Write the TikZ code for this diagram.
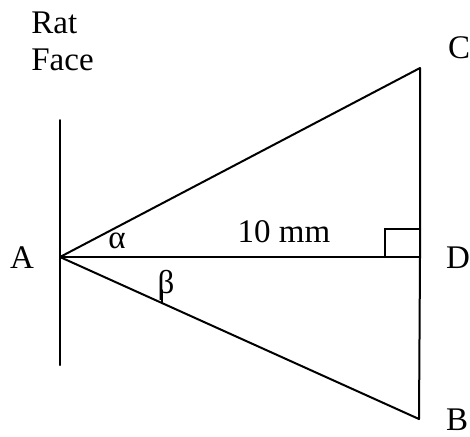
\documentclass[tikz,border=0pt]{standalone}
\usepackage{fontspec}
\setmainfont{Liberation Serif}
\usetikzlibrary{calc}

\begin{document}
\begin{tikzpicture}[
    x=0.5pt, y=-0.5pt,
    lbl/.style={font=\fontsize{16.5}{18.5}\selectfont, inner sep=0pt, anchor=base},
    edge/.style={line width=1pt, line cap=round, line join=miter}
]
    \useasboundingbox (0,0) rectangle (470,436);

    % --- POINTS ---
    \coordinate (facetop) at (60,120);
    \coordinate (facebot) at (60,365);
    \coordinate (A) at (60,257);
    \coordinate (C) at (420,68);
    \coordinate (D) at (420,257);
    \coordinate (B) at (419,419);

    % --- LABELS ---
    % (base of a two-line node is its last line)
    \node[lbl, anchor=base west, align=left] (ratface) at (31,70) {Rat\\Face};
    \node[lbl] (lblA) at (22,268) {A};
    \node[lbl] (lblC) at (459,58) {C};
    \node[lbl] (lblD) at (458,268) {D};
    \node[lbl] (lblB) at (457,430) {B};
    \node[lbl] (alpha) at (117,248) {α};
    \node[lbl] (beta) at (166,293) {β};
    \node[lbl] (dist) at (284,242) {10 mm};

    % --- LINES ---
    \draw[edge] (facetop) -- (facebot);
    \draw[edge] (A) -- (C);
    \draw[edge] (A) -- (D);
    \draw[edge] (A) -- (B);
    \draw[edge] (C) -- (D) -- (B);

    % right angle at D
    \draw[edge] ($(D)+(-35,0)$) -- ++(0,-28) -- ++(35,0);

    % tick for beta
    \coordinate (betatick) at ($(A)!0.284!(B)$);
    \draw[edge] (betatick) -- ++(0,-13);

\end{tikzpicture}
\end{document}
